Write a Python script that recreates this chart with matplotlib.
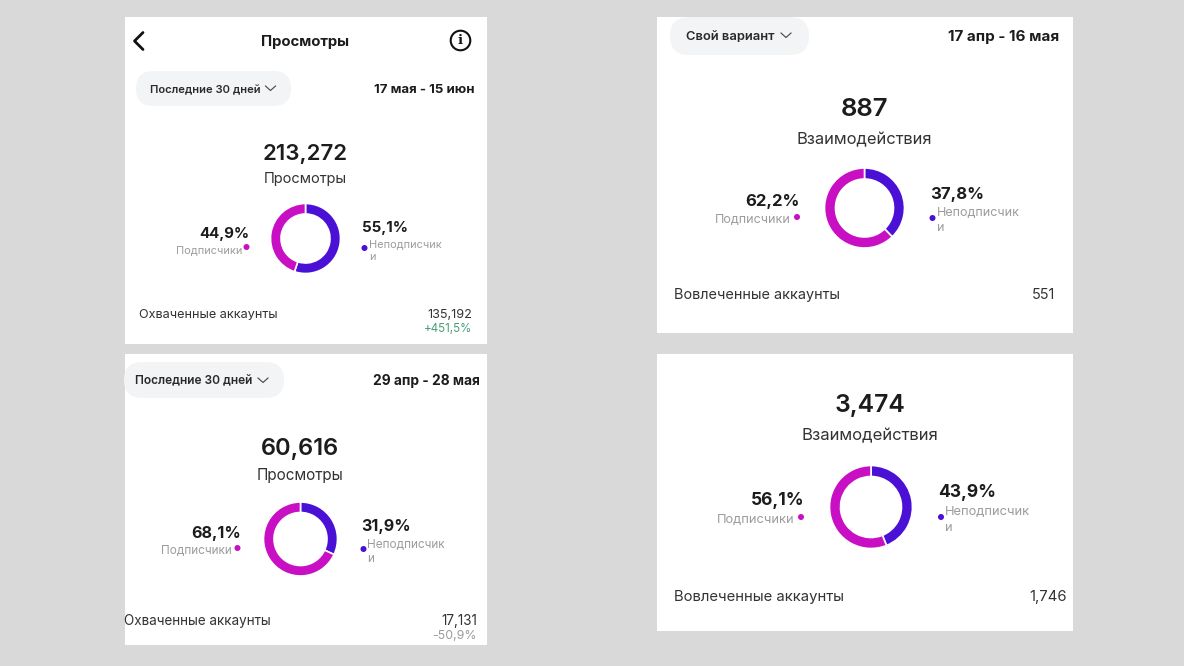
import matplotlib
matplotlib.use("Agg")
import matplotlib.pyplot as plt
from matplotlib.patches import FancyBboxPatch, Rectangle, Circle

plt.rcParams["font.family"] = ["Inter", "DejaVu Sans"]

W, H = 1184, 666

# values
totals = ["213,272", "887", "60,616", "3,474"]
metric_names = ["Просмотры", "Взаимодействия", "Просмотры", "Взаимодействия"]
followers = [44.9, 62.2, 68.1, 56.1]
non_followers = [55.1, 37.8, 31.9, 43.9]
filter_labels = ["Последние 30 дней", "Свой вариант", "Последние 30 дней"]
date_ranges = ["17 мая - 15 июн", "17 апр - 16 мая", "29 апр - 28 мая"]
account_labels = ["Охваченные аккаунты", "Вовлеченные аккаунты", "Охваченные аккаунты", "Вовлеченные аккаунты"]
account_values = ["135,192", "551", "17,131", "1,746"]
account_changes = ["+451,5%", "", "-50,9%", ""]

PINK = "#C80FC4"
PURPLE = "#4A10D6"
DARK = "#1C1C1E"
GREY = "#9C9CA0"
BG = "#D9D9D9"
TEXT_DY = 1.7  # Inter sits a bit high with va=center

# card boxes: left, top, right, bottom
cards = [(125, 17, 487, 344), (657, 17, 1073, 333), (125, 354, 487, 645), (657, 354, 1073, 631)]
# donut centre x, y, outer radius, inner radius
donuts = [(305.5, 238.5, 35, 24.5), (864.5, 208, 40, 29), (300.5, 539, 37, 26.5), (871, 507, 41.5, 30.5)]
layout = [
    dict(x=305, total_y=152, total_fs=16, name_y=177, name_fs=10.5, pct_r=249, pct_l_y=232, sub_l_r=242, sub_l_y=248,
         dot_l=246.5, pct_x=362, pct_r_y=226, sub_x=369, sub_r_y=242, dot_r=364.5, dot_r_y=248, fs=10.8, sub_fs=7.9, sub_step=13),
    dict(x=864, total_y=108, total_fs=18.5, name_y=138, name_fs=11.9, pct_r=800, pct_l_y=200, sub_l_r=791, sub_l_y=218,
         dot_l=797, pct_x=930, pct_r_y=193, sub_x=937, sub_r_y=211, dot_r=932.5, dot_r_y=218, fs=12, sub_fs=9, sub_step=15),
    dict(x=300, total_y=447, total_fs=17, name_y=474, name_fs=11, pct_r=241, pct_l_y=532, sub_l_r=232, sub_l_y=549,
         dot_l=237.5, pct_x=361, pct_r_y=525, sub_x=367, sub_r_y=543, dot_r=363.5, dot_r_y=549, fs=11.6, sub_fs=8.5, sub_step=14),
    dict(x=870, total_y=404, total_fs=17.8, name_y=434, name_fs=12, pct_r=804, pct_l_y=499, sub_l_r=795, sub_l_y=518,
         dot_l=801, pct_x=938, pct_r_y=491, sub_x=945, sub_r_y=510, dot_r=941, dot_r_y=517, fs=12.6, sub_fs=9.3, sub_step=16),
]
pills = [(136, 71, 155, 35), (670, 17, 139, 38), (124, 362, 160, 36)]
pill_text = [(150, 88, 8.05), (686, 35, 9.3), (135, 380, 8.6)]
chevrons = [(270.5, 88), (786, 35), (263, 380)]
dates = [(475, 88, 9.5), (1059, 35, 10.9), (480, 379, 9.9)]
acc_pos = [(139, 313, 472, 313, 327, 9.1), (674, 293, 1055, 293, 0, 10.4), (124, 619, 477, 619, 634, 9.7), (674, 595, 1067, 595, 0, 10.7)]


def draw_donut(fig, cx, cy, r_out, r_in, follow, other):
    size = 2 * r_out + 2
    ax = fig.add_axes([(cx - size / 2) / W, 1 - (cy + size / 2) / H, size / W, size / H])
    ax.pie([other, follow], colors=[PURPLE, PINK], startangle=90, counterclock=False, radius=r_out / (size / 2),
           wedgeprops=dict(width=(r_out - r_in) / (size / 2), edgecolor="white", linewidth=1.2))
    ax.set_xlim(-1, 1)
    ax.set_ylim(-1, 1)


def main():
    fig = plt.figure(figsize=(W / 100, H / 100), dpi=100, facecolor=BG)
    ax = fig.add_axes([0, 0, 1, 1])
    ax.set_xlim(0, W)
    ax.set_ylim(H, 0)
    ax.axis("off")

    def label(x, y, s, **kw):
        ax.text(x, y + TEXT_DY, s, va="center", **kw)

    for left, top, right, bottom in cards:
        ax.add_patch(Rectangle((left, top), right - left, bottom - top, fc="white", ec="none"))

    for (x, y, w, h), (tx, ty, fs), s in zip(pills, pill_text, filter_labels):
        ax.add_patch(FancyBboxPatch((x, y), w, h, boxstyle=f"round,pad=0,rounding_size={h / 2}",
                                    fc="#F2F4F5", ec="none", zorder=2))
        label(tx, ty, s, fontsize=fs, fontweight="semibold", color="#2A2A2E", ha="left", zorder=3)
    for cx, cy in chevrons:
        ax.plot([cx - 5, cx, cx + 5], [cy - 2, cy + 2.5, cy - 2], color="#444444", lw=0.8, zorder=3)

    for (x, y, fs), s in zip(dates, date_ranges):
        label(x, y, s, fontsize=fs, fontweight="bold", color=DARK, ha="right")

    # header of the first card
    ax.plot([143, 134.5, 143], [32.5, 41, 49.5], color="#111111", lw=2, solid_capstyle="round", solid_joinstyle="round")
    label(305.5, 40, "Просмотры", fontsize=10.7, fontweight="bold", color=DARK, ha="center")
    ax.add_patch(Circle((460.5, 40.5), 9.8, fc="none", ec="#111111", lw=1.5))
    ax.text(460.5, 40.5, "i", fontsize=9.5, fontweight="bold", family="DejaVu Serif", color="#111111", ha="center", va="center")

    for i, p in enumerate(layout):
        label(p["x"], p["total_y"], totals[i], fontsize=p["total_fs"], fontweight="semibold", color=DARK, ha="center")
        label(p["x"], p["name_y"], metric_names[i], fontsize=p["name_fs"], color="#333336", ha="center")

        label(p["pct_r"], p["pct_l_y"], f"{followers[i]:.1f}%".replace(".", ","), fontsize=p["fs"], fontweight="bold", color=DARK, ha="right")
        label(p["sub_l_r"], p["sub_l_y"], "Подписчики", fontsize=p["sub_fs"], color=GREY, ha="right")
        ax.add_patch(Circle((p["dot_l"], p["sub_l_y"] - 1), 3, fc=PINK, ec="none"))

        label(p["pct_x"], p["pct_r_y"], f"{non_followers[i]:.1f}%".replace(".", ","), fontsize=p["fs"], fontweight="bold", color=DARK, ha="left")
        label(p["sub_x"], p["sub_r_y"], "Неподписчик", fontsize=p["sub_fs"], color=GREY, ha="left")
        label(p["sub_x"], p["sub_r_y"] + p["sub_step"], "и", fontsize=p["sub_fs"], color=GREY, ha="left")
        ax.add_patch(Circle((p["dot_r"], p["dot_r_y"]), 3, fc=PURPLE, ec="none"))

    for i, (lx, ly, rx, ry, cy, fs) in enumerate(acc_pos):
        label(lx, ly, account_labels[i], fontsize=fs, color="#333336", ha="left")
        label(rx, ry, account_values[i], fontsize=fs, color="#333336", ha="right")
        if account_changes[i]:
            color = "#4C9F78" if account_changes[i].startswith("+") else GREY
            label(rx, cy, account_changes[i], fontsize=fs - 0.8, color=color, ha="right")

    for i, (cx, cy, r_out, r_in) in enumerate(donuts):
        draw_donut(fig, cx, cy, r_out, r_in, followers[i], non_followers[i])

    fig.savefig("out.png", dpi=100, facecolor=BG)


if __name__ == "__main__":
    main()
